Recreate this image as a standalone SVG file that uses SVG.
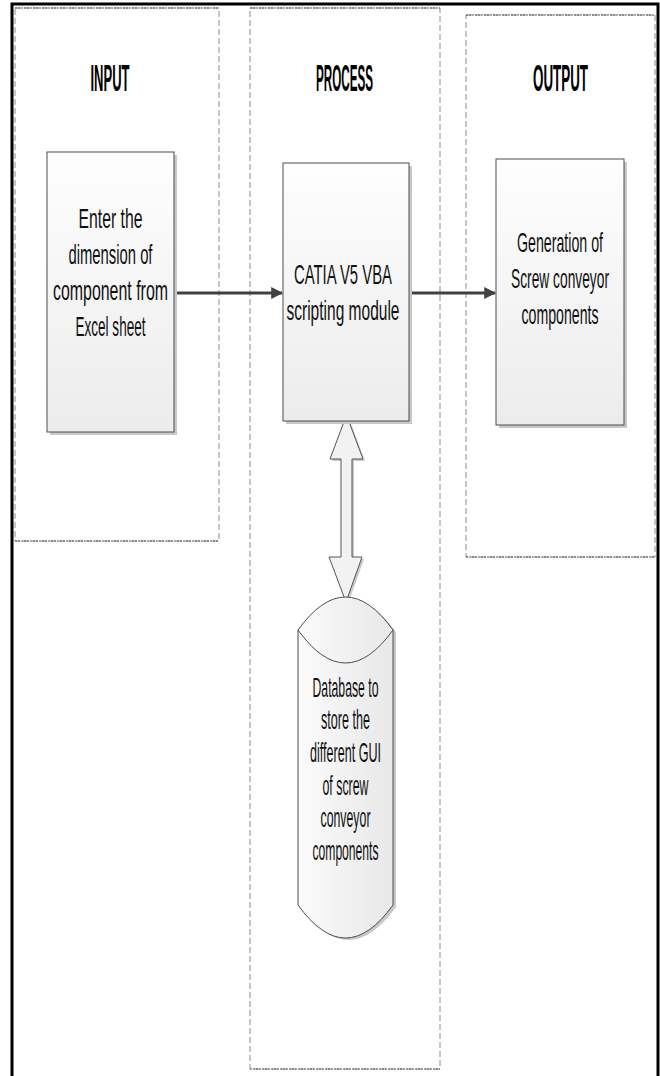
<svg xmlns="http://www.w3.org/2000/svg" width="660" height="1076" viewBox="0 0 660 1076">
<style>
.lane{fill:none;stroke:#8c8c8c;stroke-width:1;stroke-dasharray:6,3}
.laneh{fill:none;stroke:#555;stroke-width:1;stroke-dasharray:2,1}
.box{stroke:#4d4d4d;stroke-width:1;fill:url(#g)}
.shadow{fill:#c8c8c8}
.t{font-family:"Liberation Sans",Arial,sans-serif;font-size:27px;fill:#111;text-anchor:middle}
.h{font-family:"Liberation Sans",Arial,sans-serif;font-size:36px;font-weight:bold;fill:#000;text-anchor:middle}
.conn{stroke:#404040;stroke-width:3;fill:none}
</style>
<defs>
<linearGradient id="g" x1="0" y1="0" x2="0" y2="1">
<stop offset="0" stop-color="#fefefe"/>
<stop offset="1" stop-color="#ececec"/>
</linearGradient>
<linearGradient id="gh" x1="0" y1="0" x2="1" y2="0">
<stop offset="0" stop-color="#fbfbfb"/>
<stop offset="1" stop-color="#e8e8e8"/>
</linearGradient>
<marker id="ah" viewBox="0 0 10 10" refX="9" refY="5" markerWidth="4" markerHeight="4.4" orient="auto" markerUnits="strokeWidth">
<path d="M0,0 L10,5 L0,10 z" fill="#404040"/>
</marker>
</defs>
<g id="frame">
<path d="M12,1076 V4 H658 V1076" fill="none" stroke="#000" stroke-width="3"/>
</g>
<g id="lane-input">
<rect x="15" y="8" width="204" height="533" class="lane"/>
<path d="M15,8 H219 M15,541 H219" class="laneh"/>
<text x="305.56" y="91" class="h" transform="scale(0.36,1)" textLength="108.33" lengthAdjust="spacingAndGlyphs">INPUT</text>
</g>
<g id="lane-process">
<rect x="250" y="8" width="190" height="1061" class="lane"/>
<path d="M250,8 H440 M250,1069 H440" class="laneh"/>
<text x="956.94" y="91" class="h" transform="scale(0.36,1)" textLength="158.33" lengthAdjust="spacingAndGlyphs">PROCESS</text>
</g>
<g id="lane-output">
<rect x="466" y="15" width="189" height="542" class="lane"/>
<path d="M466,15 H655 M466,557 H655" class="laneh"/>
<text x="1556.94" y="91" class="h" transform="scale(0.36,1)" textLength="152.78" lengthAdjust="spacingAndGlyphs">OUTPUT</text>
</g>
<g id="connectors">
<line x1="174" y1="293" x2="282" y2="293" class="conn" marker-end="url(#ah)"/>
<line x1="409" y1="293" x2="495" y2="293" class="conn" marker-end="url(#ah)"/>
<path d="M346.5,415 L363,459 L352,459 L352,557 L362,557 L346,602 L329,557 L341,557 L341,459 L330,459 Z" fill="#c8c8c8" transform="translate(2,2)"/>
<path d="M346.5,415 L363,459 L352,459 L352,557 L362,557 L346,602 L329,557 L341,557 L341,459 L330,459 Z" fill="#f2f2f2" stroke="#555" stroke-width="1"/>
</g>
<g id="node-input">
<rect x="50" y="155" width="127" height="280" class="shadow"/>
<rect x="47" y="152" width="127" height="280" class="box"/>
<text class="t" transform="scale(0.57,1)"><tspan x="193.86" y="228" textLength="112.28" lengthAdjust="spacingAndGlyphs">Enter the</tspan><tspan x="193.86" y="264" textLength="147.37" lengthAdjust="spacingAndGlyphs">dimension of</tspan><tspan x="193.86" y="300" textLength="201.75" lengthAdjust="spacingAndGlyphs">component from</tspan><tspan x="193.86" y="336" textLength="122.81" lengthAdjust="spacingAndGlyphs">Excel sheet</tspan></text>
</g>
<g id="node-process">
<rect x="286" y="166" width="126" height="258" class="shadow"/>
<rect x="283" y="163" width="126" height="258" class="box"/>
<text class="t" transform="scale(0.57,1)"><tspan x="601.75" y="284" textLength="171.93" lengthAdjust="spacingAndGlyphs">CATIA V5 VBA</tspan><tspan x="601.75" y="320" textLength="198.25" lengthAdjust="spacingAndGlyphs">scripting module</tspan></text>
</g>
<g id="node-output">
<rect x="499" y="162" width="128" height="266" class="shadow"/>
<rect x="496" y="159" width="128" height="266" class="box"/>
<text class="t" transform="scale(0.57,1)"><tspan x="982.46" y="252" textLength="150.88" lengthAdjust="spacingAndGlyphs">Generation of</tspan><tspan x="982.46" y="288" textLength="171.93" lengthAdjust="spacingAndGlyphs">Screw conveyor</tspan><tspan x="982.46" y="324" textLength="135.09" lengthAdjust="spacingAndGlyphs">components</tspan></text>
</g>
<g id="node-database">
<path d="M298,630 Q345.5,564 393,630 L393,905 Q345.5,971 298,905 Z" fill="#c8c8c8" transform="translate(3,2)"/>
<path d="M298,630 Q345.5,564 393,630 L393,905 Q345.5,971 298,905 Z" fill="url(#gh)" stroke="#4d4d4d" stroke-width="1"/>
<path d="M298,630 Q345.5,696 393,630" fill="none" stroke="#4d4d4d" stroke-width="1"/>
<text class="t" transform="scale(0.57,1)"><tspan x="606.14" y="697" textLength="115.79" lengthAdjust="spacingAndGlyphs">Database to</tspan><tspan x="606.14" y="729" textLength="85.96" lengthAdjust="spacingAndGlyphs">store the</tspan><tspan x="606.14" y="762" textLength="124.56" lengthAdjust="spacingAndGlyphs">different GUI</tspan><tspan x="606.14" y="795" textLength="80.7" lengthAdjust="spacingAndGlyphs">of screw</tspan><tspan x="606.14" y="827" textLength="87.72" lengthAdjust="spacingAndGlyphs">conveyor</tspan><tspan x="606.14" y="860" textLength="115.79" lengthAdjust="spacingAndGlyphs">components</tspan></text>
</g>
</svg>
